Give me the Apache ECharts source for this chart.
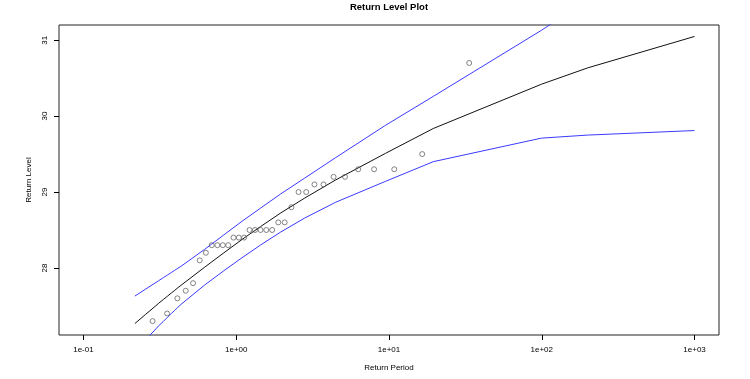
<!DOCTYPE html>
<html>
<head>
<meta charset="utf-8">
<script src="https://cdn.jsdelivr.net/npm/echarts@6/dist/echarts.min.js"></script>
<style>html,body{margin:0;padding:0;background:#fff}#c{width:750px;height:379px}</style>
</head>
<body>
<div id="c"></div>
<script>
// Return-level curve (return period, level, 95% CI)
const periods = [0.2171, 0.2556, 0.2852, 0.3107, 0.3338, 0.3554, 0.3760, 0.3959, 0.4153, 0.4343,
  0.6213, 0.8306, 1.0914, 1.4427, 1.9576, 2.8037, 4.4814, 9.4912, 19.496, 99.499, 199.50, 999.50];
const returnLevel = [27.268, 27.39, 27.47, 27.535, 27.585, 27.63, 27.67, 27.705, 27.74, 27.77,
  28.01, 28.20, 28.375, 28.545, 28.725, 28.92, 29.16, 29.51, 29.837, 30.42, 30.635, 31.049];
const upperCI = [27.63, 27.722, 27.784, 27.832, 27.873, 27.908, 27.94, 27.969, 27.997, 28.021,
  28.245, 28.436, 28.615, 28.788, 28.976, 29.183, 29.454, 29.879, 30.26, 31.13, 31.53, 32.29];
const lowerCI = [26.906, 27.058, 27.156, 27.238, 27.297, 27.352, 27.40, 27.441, 27.483, 27.519,
  27.775, 27.964, 28.135, 28.302, 28.474, 28.657, 28.866, 29.141, 29.40, 29.71, 29.75, 29.81];

// Observed (empirical) points
const obsPeriods = [0.2836, 0.3530, 0.4119, 0.4673, 0.5217, 0.5765, 0.6327, 0.6911, 0.7524, 0.8171,
  0.8862, 0.9602, 1.0401, 1.1270, 1.2220, 1.3267, 1.4427, 1.5724, 1.7184, 1.8846, 2.0754, 2.2972,
  2.5584, 2.8710, 3.2522, 3.7277, 4.3379, 5.1505, 6.2867, 7.9895, 10.826, 16.495, 33.498];
const obsLevels = [27.3, 27.4, 27.6, 27.7, 27.8, 28.1, 28.2, 28.3, 28.3, 28.3, 28.3, 28.4, 28.4, 28.4,
  28.5, 28.5, 28.5, 28.5, 28.5, 28.6, 28.6, 28.8, 29.0, 29.0, 29.1, 29.1, 29.2, 29.2, 29.3, 29.3, 29.3,
  29.5, 30.7];

// Axes
const xTickValues = [0.1, 1, 10, 100, 1000];
const xTickLabels = ['1e-01', '1e+00', '1e+01', '1e+02', '1e+03'];
const yTickValues = [28, 29, 30, 31];
const xMin = Math.pow(10, -1.16), xMax = Math.pow(10, 3.16);
const yMin = 27.117, yMax = 31.200;

const FONT = 'Liberation Sans, Arial, Helvetica, sans-serif';
const chart = echarts.init(document.getElementById('c'), null, {renderer: 'canvas'});
const pair = (xs, ys) => xs.map((x, i) => [x, ys[i]]);
const lineStyleOf = (c) => ({color: c, width: 1});

chart.setOption({
  animation: false,
  backgroundColor: '#fff',
  title: {
    text: 'Return Level Plot', left: 389, top: 2, textAlign: 'center', padding: 0,
    textStyle: {fontFamily: FONT, fontSize: 9.5, fontWeight: 'bold', color: '#000'}
  },
  grid: {left: 59, right: 31, top: 25, bottom: 44, show: true, borderColor: '#222', borderWidth: 1,
    backgroundColor: 'transparent', containLabel: false, outerBoundsMode: 'none'},
  xAxis: {
    type: 'log', logBase: 10, min: xMin, max: xMax,
    name: 'Return Period', nameLocation: 'middle', nameGap: 29,
    nameTextStyle: {fontFamily: FONT, fontSize: 8, color: '#000'},
    axisLine: {show: false},
    axisTick: {show: true, length: 5, customValues: xTickValues, lineStyle: {color: '#000', width: 1}},
    axisLabel: {show: true, customValues: xTickValues, margin: 11, fontFamily: FONT, fontSize: 8, color: '#000',
      formatter: (v) => { const i = xTickValues.findIndex(t => Math.abs(Math.log10(t) - Math.log10(v)) < 1e-6); return i >= 0 ? xTickLabels[i] : ''; }},
    splitLine: {show: false}, minorTick: {show: false}
  },
  yAxis: {
    type: 'value', min: yMin, max: yMax,
    name: 'Return Level', nameLocation: 'middle', nameGap: 26,
    nameTextStyle: {fontFamily: FONT, fontSize: 8, color: '#000'},
    axisLine: {show: false},
    axisTick: {show: true, length: 5, customValues: yTickValues, lineStyle: {color: '#000', width: 1}},
    axisLabel: {show: true, customValues: yTickValues, rotate: 90, margin: 10, fontFamily: FONT, fontSize: 8, color: '#000'},
    splitLine: {show: false}
  },
  series: [
    {type: 'line', data: pair(periods, returnLevel), showSymbol: false, symbol: 'none', lineStyle: lineStyleOf('#111'), clip: true, z: 3},
    {type: 'line', data: pair(periods, upperCI), showSymbol: false, symbol: 'none', lineStyle: lineStyleOf('#3a3aff'), clip: true, z: 2},
    {type: 'line', data: pair(periods, lowerCI), showSymbol: false, symbol: 'none', lineStyle: lineStyleOf('#3a3aff'), clip: true, z: 2},
    {type: 'scatter', data: pair(obsPeriods, obsLevels), symbol: 'circle', symbolSize: 5,
      itemStyle: {color: 'transparent', borderColor: '#555', borderWidth: 0.9}, z: 4}
  ]
});
</script>
</body>
</html>
